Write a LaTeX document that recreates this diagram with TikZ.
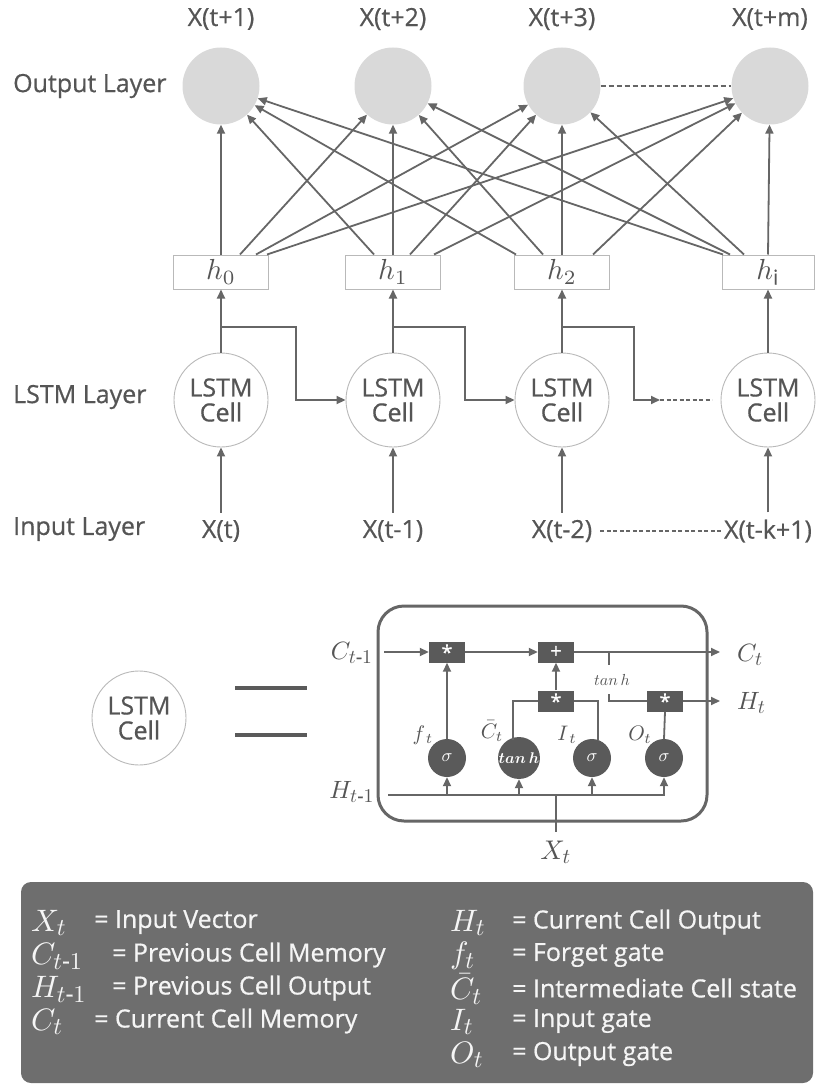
\documentclass[tikz,border=0pt]{standalone}
\usepackage{amsmath}
\usepackage{graphicx}
\usepackage{fontspec}
\setmainfont{Open Sans}[FakeBold=0.6]
\usetikzlibrary{arrows.meta,calc}
\definecolor{ln}{HTML}{666666}
\definecolor{tx}{HTML}{555555}
\definecolor{outfill}{HTML}{D9D9D9}
\definecolor{gate}{HTML}{5A5A5A}
\definecolor{legbg}{HTML}{6E6E6E}
\definecolor{legtx}{HTML}{F5F5F5}
\newcommand\fsz[1]{\fontsize{#1}{#1}\selectfont}
\newcommand\M[2]{\scalebox{#1}{\fontsize{10}{12}\selectfont$#2$}}
\newcommand\sbx[1]{\mbox{\scalebox{0.78}{$#1$}}}
\begin{document}
\begin{tikzpicture}[x=1pt,y=-1pt,
  arr/.style={draw=ln, line width=1.8pt, -{Triangle[length=9pt,width=8pt]}},
  ln2/.style={draw=ln, line width=1.8pt},
  lab/.style={font=\fsz{25}, text=tx, inner sep=0pt},
  outc/.style={circle, fill=outfill, minimum size=77pt, inner sep=0pt},
  cellc/.style={circle, draw=gray!55, line width=0.9pt, fill=white, minimum size=94pt, inner sep=0pt, align=center, font=\fsz{25}\linespread{1.15}, text=tx},
  hbox/.style={draw=gray!55, line width=1pt, minimum width=95pt, minimum height=34pt, inner sep=0pt, text=tx},
  gbox/.style={fill=gate, minimum width=36pt, minimum height=21pt, inner sep=0pt, text=white, font=\fsz{20}},
  sig/.style={circle, fill=gate, minimum size=38pt, inner sep=0pt, text=white},
  mlab/.style={text=tx, inner sep=0pt},
  legs/.style={text=legtx, inner sep=0pt, anchor=west},
  legt/.style={text=legtx, inner sep=0pt, anchor=west, font=\fsz{25}}
]
\useasboundingbox (0,0) rectangle (816,1086);

% ---------- output layer ----------
\foreach \n/\x/\t in {o1/221/X(t+1), o2/393/X(t+2), o3/562/X(t+3), o4/770/X(t+m)}{
  \node[outc] (\n) at (\x,86) {};
  \node[lab] (l\n) at (\x,19) {\t};
}
\node[lab, anchor=west] (outlab) at (13,86) {Output Layer};
\draw[ln, line width=1.5pt, dash pattern=on 5pt off 3pt] (o3.east) -- (o4.west);

% ---------- h boxes ----------
\node[hbox] (h0) at (221,272) {\M{2.9}{h_0}};
\node[hbox] (h1) at (393,272) {\M{2.9}{h_1}};
\node[hbox] (h2) at (562,272) {\M{2.9}{h_2}};
\node[hbox, minimum width=92pt] (hi) at (768,272) {\M{2.9}{h_{\mathrm{i}}}};

% ---------- connections h -> output ----------
\draw[arr] (h0.north) -- (o1);
\draw[arr] ($(h0.north)+(19,0)$) -- (o2);
\draw[arr] ($(h0.north)+(35,0)$) -- (o3);
\draw[arr] ($(h0.north)+(46,0)$) -- (o4);
\draw[arr] ($(h1.north)+(-19,0)$) -- (o1);
\draw[arr] (h1.north) -- (o2);
\draw[arr] ($(h1.north)+(17,0)$) -- (o3);
\draw[arr] ($(h1.north)+(41,0)$) -- (o4);
\draw[arr] ($(h2.north)+(-46,0)$) -- (o1);
\draw[arr] ($(h2.north)+(-19,0)$) -- (o2);
\draw[arr] (h2.north) -- (o3);
\draw[arr] ($(h2.north)+(31,0)$) -- (o4);
\draw[arr] ($(hi.north)+(-45,0)$) -- (o1);
\draw[arr] ($(hi.north)+(-38,0)$) -- (o2);
\draw[arr] ($(hi.north)+(-24,0)$) -- (o3);
\draw[arr] (hi.north) -- (o4);

% ---------- LSTM layer ----------
\node[cellc] (c1) at (221,400) {LSTM\\Cell};
\node[cellc] (c2) at (393,400) {LSTM\\Cell};
\node[cellc] (c3) at (562,400) {LSTM\\Cell};
\node[cellc] (c4) at (768,400) {LSTM\\Cell};
\node[lab, anchor=west] (lstmlab) at (13,397) {LSTM Layer};

\draw[arr] (c1.north) -- (h0.south);
\draw[arr] (c2.north) -- (h1.south);
\draw[arr] (c3.north) -- (h2.south);
\draw[arr] (c4.north) -- (hi.south);

\coordinate (b1) at (221,327);
\coordinate (b2) at (393,327);
\coordinate (b3) at (562,327);
\coordinate (k1) at (296,400);
\coordinate (k2) at (465,400);
\coordinate (k3) at (634,400);
\coordinate (d1) at (660,400);
\coordinate (d2) at (712,400);
\draw[arr] (b1) -| (k1) -- (c2.west);
\draw[arr] (b2) -| (k2) -- (c3.west);
\draw[arr] (b3) -| (k3) -- (d1);
\draw[ln, line width=1.5pt, dash pattern=on 4pt off 2.5pt] (d1) -- (d2);

% ---------- input layer ----------
\node[lab] (i1) at (221,531) {X(t)};
\node[lab] (i2) at (393,531) {X(t-1)};
\node[lab] (i3) at (562,531) {X(t-2)};
\node[lab] (i4) at (768,531) {X(t-k+1)};
\node[lab, anchor=west] (inlab) at (13,529) {Input Layer};
\draw[arr, shorten <=7pt] (i1.north) -- (c1.south);
\draw[arr, shorten <=7pt] (i2.north) -- (c2.south);
\draw[arr, shorten <=7pt] (i3.north) -- (c3.south);
\draw[arr, shorten <=7pt] (i4.north) -- (c4.south);
\draw[ln, line width=1.5pt, dash pattern=on 4pt off 2.5pt, shorten <=8pt, shorten >=2pt] (i3.east) -- (i4.west);

% ---------- LSTM cell detail ----------
\node[cellc] (cc) at (139,718) {LSTM\\Cell};
\coordinate (e1) at (235,688);
\coordinate (e2) at (307,688);
\coordinate (e3) at (235,735);
\coordinate (e4) at (307,735);
\draw[draw=gate, line width=4pt] (e1) -- (e2);
\draw[draw=gate, line width=4pt] (e3) -- (e4);

\draw[draw=ln, line width=3pt, rounded corners=26pt] (378,606) rectangle (707,821);

\node[gbox] (g1) at (447,652) {*};
\node[gbox] (gp) at (556,652) {+};
\node[gbox] (g2) at (556,701) {*};
\node[gbox] (g3) at (665,701) {*};

\node[sig] (s1) at (447,758) {\M{1.8}{\sigma}};
\node[sig] (s2) at (519,758) {\M{1.55}{\boldsymbol{tan\,h}}};
\node[sig] (s3) at (592,758) {\M{1.8}{\sigma}};
\node[sig] (s4) at (664,758) {\M{1.8}{\sigma}};

\node[mlab] (cin) at (352,653) {\M{2.5}{C_{\sbx{t\text{-}1}}}};
\node[mlab, anchor=west] (ct) at (737,655) {\M{2.5}{C_{\sbx{t}}}};
\node[mlab, anchor=west] (ht) at (737,703) {\M{2.5}{H_{\sbx{t}}}};
\node[mlab] (hin) at (352,792) {\M{2.5}{H_{\sbx{t\text{-}1}}}};
\node[mlab] (xt) at (556,852) {\M{2.7}{X_{\sbx{t}}}};

\node[mlab] (ft) at (423,735) {\M{2.1}{f_{\,t}}};
\node[mlab] (cbt) at (492,731) {\M{2.1}{\bar{C}_t}};
\node[mlab] (it) at (567,735) {\M{2.1}{I_{\,t}}};
\node[mlab] (otl) at (640,735) {\M{2.1}{O_t}};
\node[mlab] (tanhlab) at (612,680) {\M{1.6}{tan\,h}};

\coordinate (cst) at (384,652);
\coordinate (cend) at (720,652);
\coordinate (hend) at (720,701);
\draw[arr] (cst) -- (g1.west);
\draw[arr] (g1.east) -- (gp.west);
\draw[arr] (gp.east) -- (cend);
\coordinate (tk1) at (609,652);
\coordinate (tk2) at (609,665);
\coordinate (tk3) at (609,694);
\draw[ln2] (tk1) -- (tk2);
\draw[ln2] (tk3) |- (g3.west);
\draw[arr] (g3.east) -- (hend);
\draw[arr] (g2.north) -- (gp.south);
\coordinate (q1) at (513,740);
\coordinate (q2) at (598,740);
\draw[ln2] (g2.west) -| (q1);
\draw[ln2] (g2.east) -| (q2);
\draw[arr] (s1.north) -- (g1.south);
\draw[ln2] (s4.north) -- (g3.south);

\coordinate (hst) at (388,795);
\coordinate (p1) at (447,795);
\coordinate (p2) at (519,795);
\coordinate (p3) at (592,795);
\coordinate (px) at (556,795);
\coordinate (xb) at (556,832);
\draw[arr] (hst) -| (s4.south);
\draw[arr] (p1) -- (s1.south);
\draw[arr] (p2) -- (s2.south);
\draw[arr] (p3) -- (s3.south);
\draw[ln2] (px) -- (xb);

% ---------- legend ----------
\fill[legbg, rounded corners=10pt] (21,882) rectangle (813,1083);
\node[legs] (a1) at (31,923) {\M{3.1}{X_{\sbx{t}}}};
\node[legs] (a2) at (31,956) {\M{3.1}{C_{\sbx{t\text{-}1}}}};
\node[legs] (a3) at (31,989) {\M{3.1}{H_{\sbx{t\text{-}1}}}};
\node[legs] (a4) at (31,1022) {\M{3.1}{C_{\sbx{t}}}};
\node[legt] (t1) at (94,922) {= Input Vector};
\node[legt] (t2) at (112,955) {= Previous Cell Memory};
\node[legt] (t3) at (112,988) {= Previous Cell Output};
\node[legt] (t4) at (94,1021) {= Current Cell Memory};
\node[legs] (r1) at (450,923) {\M{3.1}{H_{\sbx{t}}}};
\node[legs] (r2) at (450,956) {\M{3.1}{f_{\sbx{t}}}};
\node[legs] (r3) at (450,989) {\M{3.1}{\bar{C}_{\sbx{t}}}};
\node[legs] (r4) at (450,1022) {\M{3.1}{I_{\sbx{t}}}};
\node[legs] (r5) at (450,1055) {\M{3.1}{O_{\sbx{t}}}};
\node[legt] (u1) at (512,922) {= Current Cell Output};
\node[legt] (u2) at (512,955) {= Forget gate};
\node[legt] (u3) at (512,988) {= Intermediate Cell state};
\node[legt] (u4) at (512,1021) {= Input gate};
\node[legt] (u5) at (512,1054) {= Output gate};
\end{tikzpicture}
\end{document}
